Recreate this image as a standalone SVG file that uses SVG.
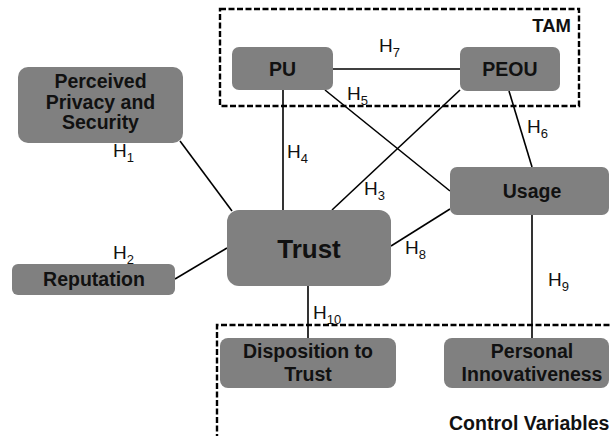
<svg xmlns="http://www.w3.org/2000/svg" width="610" height="436" viewBox="0 0 610 436">
<style>
.node{fill:#808080;stroke:none}
.nt{font-family:"Liberation Sans",Arial,sans-serif;font-weight:bold;font-size:19.5px;fill:#111;text-anchor:middle}
.h{font-family:"Liberation Sans",Arial,sans-serif;font-size:19px;fill:#111}
.sub{font-size:13px}
.ln{stroke:#000;stroke-width:1.6;fill:none}
.dash{stroke:#000;stroke-width:2.4;fill:none;stroke-dasharray:6 2.5}
</style>
<rect width="610" height="436" fill="#fff"/>
<g id="groups">
<rect class="dash" x="220" y="9" width="359" height="97"/>
<text class="nt" x="571" y="32" style="text-anchor:end;font-size:18.5px">TAM</text>
<path class="dash" d="M217,440 V325 H615"/>
<text class="nt" x="449" y="430" style="text-anchor:start;font-size:19.5px">Control Variables</text>
</g>
<g id="connectors">
<line class="ln" x1="333" y1="69" x2="460" y2="69"/>
<line class="ln" x1="283" y1="90" x2="283" y2="210"/>
<line class="ln" x1="325" y1="90" x2="450" y2="191"/>
<line class="ln" x1="460" y1="90" x2="332" y2="210"/>
<line class="ln" x1="509" y1="91" x2="532" y2="167"/>
<line class="ln" x1="532" y1="215" x2="532" y2="338"/>
<line class="ln" x1="450" y1="209" x2="391" y2="246"/>
<line class="ln" x1="180" y1="141" x2="232" y2="211"/>
<line class="ln" x1="175" y1="279" x2="227" y2="248"/>
<line class="ln" x1="308" y1="286" x2="308" y2="338"/>
</g>
<g id="labels">
<text class="h" x="113" y="157">H<tspan class="sub" dy="5">1</tspan></text>
<text class="h" x="113" y="259">H<tspan class="sub" dy="5">2</tspan></text>
<text class="h" x="364" y="195">H<tspan class="sub" dy="5">3</tspan></text>
<text class="h" x="287" y="158">H<tspan class="sub" dy="5">4</tspan></text>
<text class="h" x="347" y="100">H<tspan class="sub" dy="5">5</tspan></text>
<text class="h" x="527" y="133">H<tspan class="sub" dy="5">6</tspan></text>
<text class="h" x="379" y="52">H<tspan class="sub" dy="5">7</tspan></text>
<text class="h" x="405" y="254">H<tspan class="sub" dy="5">8</tspan></text>
<text class="h" x="548" y="286">H<tspan class="sub" dy="5">9</tspan></text>
<text class="h" x="313" y="319">H<tspan class="sub" dy="5">10</tspan></text>
</g>
<g id="pps">
<rect class="node" x="18" y="67" width="165" height="76" rx="10"/>
<text class="nt" x="100.5" y="88">Perceived</text>
<text class="nt" x="100.5" y="108.5">Privacy and</text>
<text class="nt" x="100.5" y="129">Security</text>
</g>
<g id="reputation">
<rect class="node" x="12" y="264" width="163" height="31" rx="6"/>
<text class="nt" x="94" y="286">Reputation</text>
</g>
<g id="trust">
<rect class="node" x="227" y="210" width="164" height="76" rx="12"/>
<text class="nt" x="309" y="258" style="font-size:26px">Trust</text>
</g>
<g id="pu">
<rect class="node" x="232" y="47" width="101" height="43" rx="7"/>
<text class="nt" x="282.5" y="76">PU</text>
</g>
<g id="peou">
<rect class="node" x="460" y="47" width="100" height="44" rx="7"/>
<text class="nt" x="510" y="76">PEOU</text>
</g>
<g id="usage">
<rect class="node" x="450" y="167" width="159" height="48" rx="7"/>
<text class="nt" x="532" y="198">Usage</text>
</g>
<g id="disposition">
<rect class="node" x="220" y="338" width="176" height="50" rx="8"/>
<text class="nt" x="308" y="358">Disposition to</text>
<text class="nt" x="308" y="381">Trust</text>
</g>
<g id="innovativeness">
<rect class="node" x="444" y="338" width="165" height="50" rx="8"/>
<text class="nt" x="532" y="358">Personal</text>
<text class="nt" x="532" y="381">Innovativeness</text>
</g>
</svg>
